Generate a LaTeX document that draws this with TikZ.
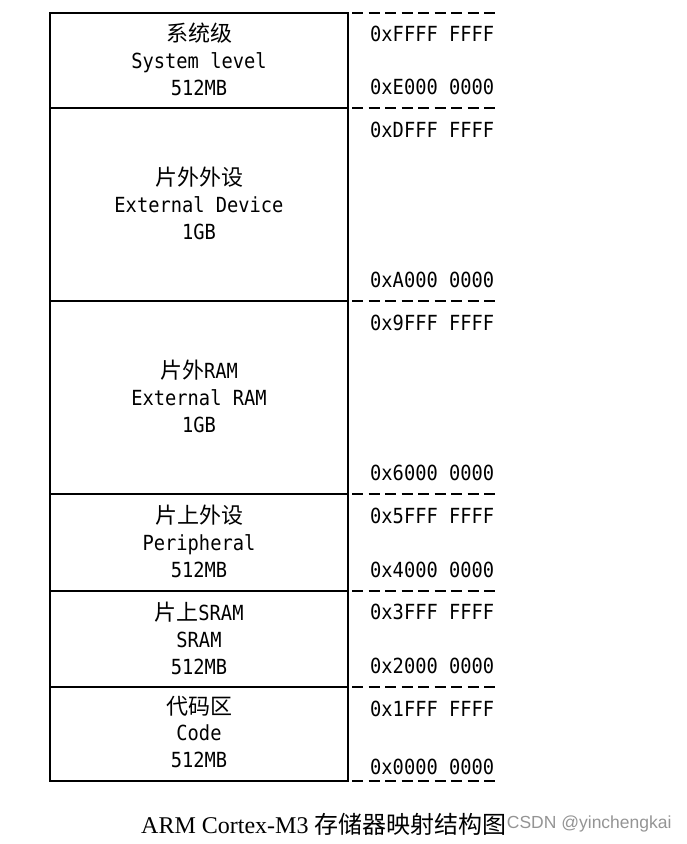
\documentclass[tikz,border=0pt]{standalone}
\usepackage{fontspec}
\usepackage{tikz}
\newfontfamily\hexfont[FakeStretch=0.9]{DejaVu Sans Mono}
\newfontfamily\zhfont{Noto Sans CJK SC}
\newfontfamily\capfont{Liberation Serif}
\newfontfamily\wmfont{Liberation Sans}
\newcommand{\zh}[1]{{\zhfont\fontsize{22}{27}\selectfont #1}}

\begin{document}
\begin{tikzpicture}[x=1pt,y=-1pt]
\tikzset{boxline/.style={line width=1.2pt}}
\tikzset{addrline/.style={line width=1.2pt,dash pattern=on 11pt off 5.5pt}}
\tikzset{lbl/.style={anchor=base,inner sep=0pt,font=\hexfont\fontsize{20.8}{27}\selectfont}}
\tikzset{addr/.style={anchor=base west,inner sep=0pt,font=\hexfont\fontsize{20.8}{27}\selectfont}}
\useasboundingbox (0,0) rectangle (687,844);
\draw[boxline] (50,13) rectangle (348,781);
\foreach \y in {108,301,494,591,687}
  \draw[boxline] (50,\y) -- (348,\y);
\foreach \y in {13,108,301,494,591,687,781}
  \draw[addrline] (352,\y) -- (495,\y);
 \node[lbl] (sys1) at (199,41.5) {\zh{系统级}};
 \node[lbl] (sys2) at (199,68.5) {System level};
 \node[lbl] (sys3) at (199,95.5) {512MB};
 \node[lbl] (ext1) at (199,185.5) {\zh{片外外设}};
 \node[lbl] (ext2) at (199,212.5) {External Device};
 \node[lbl] (ext3) at (199,239.5) {1GB};
 \node[lbl] (ram1) at (199,378.5) {\zh{片外}RAM};
 \node[lbl] (ram2) at (199,405.5) {External RAM};
 \node[lbl] (ram3) at (199,432.5) {1GB};
 \node[lbl] (per1) at (199,523.5) {\zh{片上外设}};
 \node[lbl] (per2) at (199,550.5) {Peripheral};
 \node[lbl] (per3) at (199,577.5) {512MB};
 \node[lbl] (sram1) at (199,620) {\zh{片上}SRAM};
 \node[lbl] (sram2) at (199,647) {SRAM};
 \node[lbl] (sram3) at (199,674) {512MB};
 \node[lbl] (code1) at (199,714) {\zh{代码区}};
 \node[lbl] (code2) at (199,740.5) {Code};
 \node[lbl] (code3) at (199,767) {512MB};
 \node[addr] (hiE) at (370,41) {0xFFFF FFFF};
 \node[addr] (loE) at (370,94.5) {0xE000 0000};
 \node[addr] (hiA) at (370,137) {0xDFFF FFFF};
 \node[addr] (loA) at (370,287.5) {0xA000 0000};
 \node[addr] (hi6) at (370,330) {0x9FFF FFFF};
 \node[addr] (lo6) at (370,480.5) {0x6000 0000};
 \node[addr] (hi4) at (370,523) {0x5FFF FFFF};
 \node[addr] (lo4) at (370,577) {0x4000 0000};
 \node[addr] (hi2) at (370,619.5) {0x3FFF FFFF};
 \node[addr] (lo2) at (370,673) {0x2000 0000};
 \node[addr] (hi0) at (370,716) {0x1FFF FFFF};
 \node[addr] (lo0) at (370,774) {0x0000 0000};
 \node[anchor=base west,inner sep=0pt] (cap) at (141,833)
   {{\capfont\fontsize{24}{28}\selectfont ARM Cortex-M3 }{\zhfont\fontsize{24}{28}\selectfont 存储器映射结构图}};
 \node[anchor=base west,inner sep=0pt,text=black!42,font=\wmfont\fontsize{17.5}{20}\selectfont] (wm) at ([yshift=5pt]cap.base east) {CSDN @yinchengkai};
\end{tikzpicture}
\end{document}
